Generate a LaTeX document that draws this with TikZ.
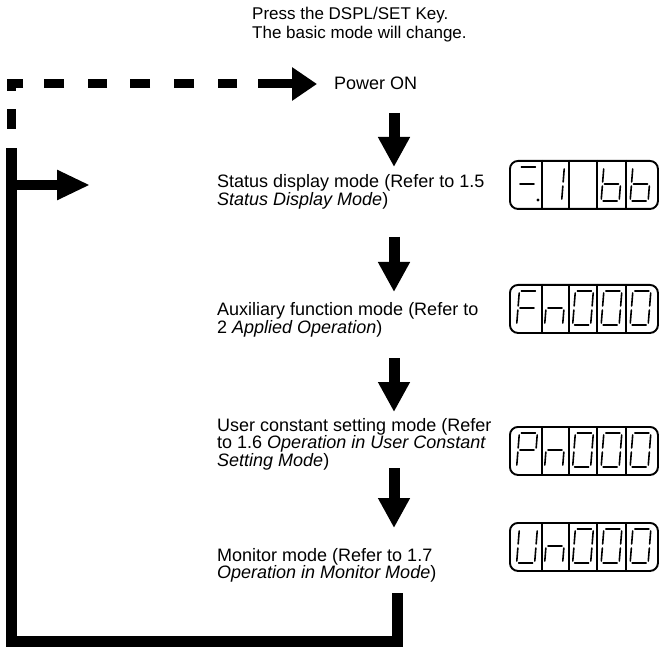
\documentclass[tikz,border=0pt]{standalone}
\usepackage{fontspec}
\setmainfont{Liberation Sans}
\usetikzlibrary{arrows.meta,calc}
\tikzset{
  txt/.style={inner sep=0pt, anchor=base west, align=left, font=\fontsize{18}{17.5}\selectfont},
  fat/.style={line width=11pt, -{Triangle[width=30pt,length=30pt]}},
  loopline/.style={line width=11pt, line join=miter},
  boxl/.style={draw, line width=1.9pt, rounded corners=8pt, minimum width=148pt, minimum height=48pt, inner sep=0pt, anchor=north west},
  divl/.style={line width=1.3pt},
  segl/.style={line width=1.6pt, line cap=round},
}
% segment coordinates (centred digit, y downwards)
\def\sgA{-7/-17/7/-17}
\def\sgB{9/-15/9/-2}
\def\sgC{9/2/9/15}
\def\sgD{-7/17/7/17}
\def\sgE{-9/2/-9/15}
\def\sgF{-9/-15/-9/-2}
\def\sgG{-7/0/7/0}
\edef\dZero{\sgA,\sgB,\sgC,\sgD,\sgE,\sgF}
\edef\dF{\sgA,\sgF,\sgE,\sgG}
\edef\dN{\sgE,\sgG,\sgC}
\edef\dP{\sgA,\sgB,\sgF,\sgG,\sgE}
\edef\dU{\sgF,\sgE,\sgD,\sgC,\sgB}
\edef\dB{\sgF,\sgE,\sgG,\sgC,\sgD}
\edef\dEq{\sgA,\sgG}
\edef\dBar{\sgB,\sgC}
\newcommand\segdigit[3]{%
  \begin{scope}[shift={(#1,#2)}, xslant=0.08]
    \foreach \xa/\ya/\xb/\yb in #3 {\draw[segl] (\xa,\ya) -- (\xb,\yb);}
  \end{scope}}
\newcommand\segpanel[2]{% #1 top y, #2 name
  \node[boxl] (#2) at (509,#1) {};
  \foreach \dx in {33,60,88,117}
    \draw[divl] ($(#2.north west)+(\dx,0)$) -- ($(#2.south west)+(\dx,0)$);}
\newcommand\segrow[6]{% y centre, five digit lists
  \segdigit{527}{#1}{#2}
  \segdigit{555}{#1}{#3}
  \segdigit{583}{#1}{#4}
  \segdigit{611.5}{#1}{#5}
  \segdigit{640.5}{#1}{#6}}
\begin{document}
\begin{tikzpicture}[x=1pt,y=-1pt]
\useasboundingbox (0,0) rectangle (659,647);

% texts (anchor = baseline of last line)
\node[txt, font=\fontsize{17}{19}\selectfont] (hint) at (252,39) {Press the DSPL/SET Key.\\The basic mode will change.};
\node[txt] (power) at (334,90) {Power ON};
\node[txt] (status) at (217,205.5) {Status display mode (Refer to 1.5\\\textit{Status Display Mode})};
\node[txt] (aux) at (217,333.5) {Auxiliary function mode (Refer to\\2 \textit{Applied Operation})};
\node[txt] (user) at (217,466) {User constant setting mode (Refer\\to 1.6 \textit{Operation in User Constant}\\\textit{Setting Mode})};
\node[txt] (mon) at (217,578.5) {Monitor mode (Refer to 1.7\\\textit{Operation in Monitor Mode})};

% connector coordinates
\coordinate (lt) at (11.5,148);
\coordinate (corner) at (11.5,84);
\coordinate (dh) at (258,84);
\coordinate (d1a) at (394,113); \coordinate (d1b) at (394,167);
\coordinate (d2a) at (394,237); \coordinate (d2b) at (394,292);
\coordinate (d3a) at (394,358); \coordinate (d3b) at (394,412);
\coordinate (d4a) at (394,468); \coordinate (d4b) at (394,528);
\coordinate (r0) at (397,593);
\coordinate (rb) at (397,641);
\coordinate (lb) at (11.5,641);
\coordinate (la) at (11.5,185);
\coordinate (lh) at (90,185);

% dashed arrow
\draw[line width=9pt, dash pattern=on 0pt off 21pt on 19pt off 24pt on 20pt off 24pt on 20pt off 23pt on 19pt off 24pt on 20pt off 21pt on 19pt off 18pt on 20pt off 40pt]
  (dh) -- (corner) -- (lt);
\draw[line width=9pt, -{Triangle[width=32pt,length=25pt]}] (dh) -- ([xshift=-17pt]power.west |- dh);

% down arrows
\draw[fat] (d1a) -- (d1b);
\draw[fat] (d2a) -- (d2b);
\draw[fat] (d3a) -- (d3b);
\draw[fat] (d4a) -- (d4b);

% return loop
\draw[loopline] (r0) -- (rb) -- (lb) -- (lt);
\draw[line width=10pt, -{Triangle[width=28pt,length=33pt]}] (la) -- (lh);

% panels
\segpanel{160}{p1}
\segpanel{284}{p2}
\segpanel{426}{p3}
\segpanel{522}{p4}

% panel 1: status bits and "bb"
\segdigit{527}{184}{\dEq}
\fill (538,200) circle (1.7pt);
\segdigit{554}{184}{\dBar}
\segdigit{611.5}{184}{\dB}
\segdigit{640.5}{184}{\dB}
% panel 2: Fn000
\segrow{308}{\dF}{\dN}{\dZero}{\dZero}{\dZero}
% panel 3: Pn000
\segrow{450}{\dP}{\dN}{\dZero}{\dZero}{\dZero}
% panel 4: Un000
\segrow{546}{\dU}{\dN}{\dZero}{\dZero}{\dZero}
\end{tikzpicture}
\end{document}
